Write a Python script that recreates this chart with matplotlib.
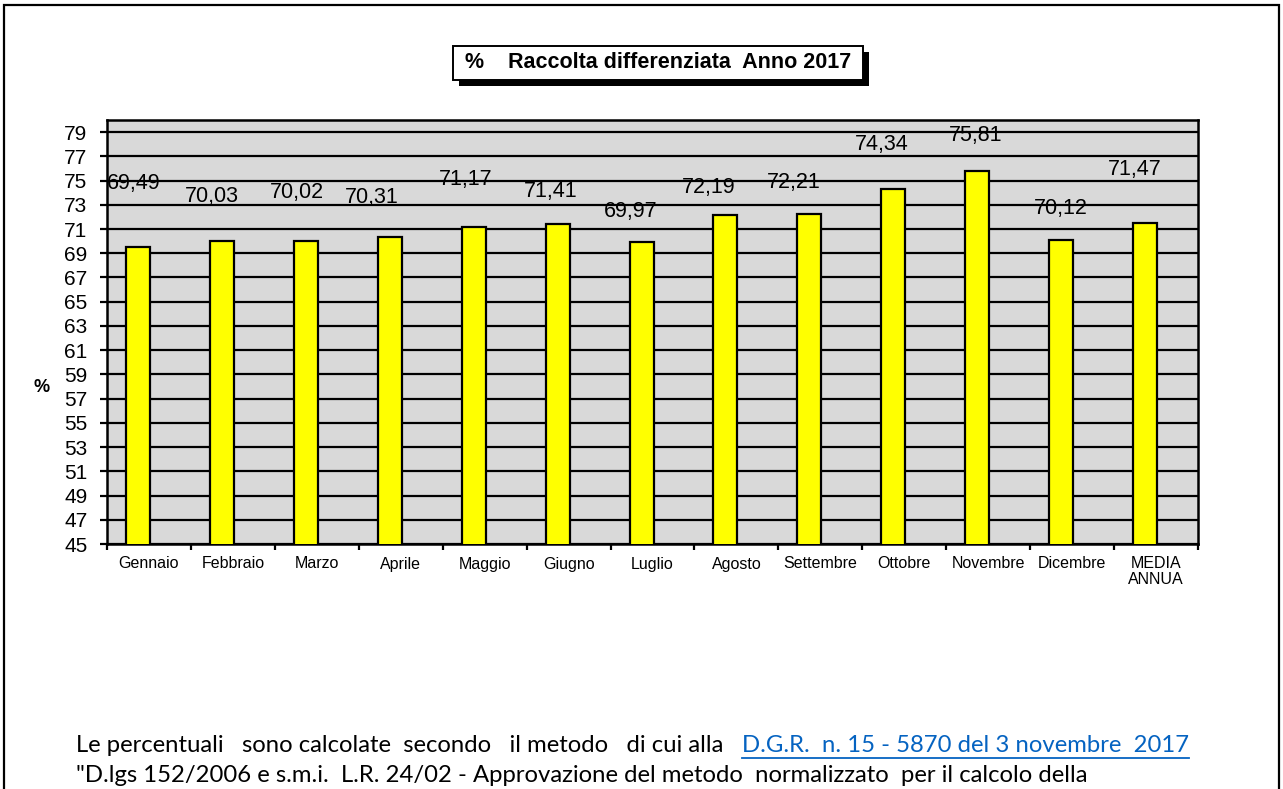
import matplotlib
matplotlib.use("Agg")
import matplotlib.pyplot as plt
from matplotlib.patches import Rectangle
from matplotlib.lines import Line2D

# ---- data ----
months = ["Gennaio", "Febbraio", "Marzo", "Aprile", "Maggio", "Giugno", "Luglio",
          "Agosto", "Settembre", "Ottobre", "Novembre", "Dicembre", "MEDIA\nANNUA"]
values = [69.49, 70.03, 70.02, 70.31, 71.17, 71.41, 69.97,
          72.19, 72.21, 74.34, 75.81, 70.12, 71.47]
yticks = list(range(45, 80, 2))
title = "%    Raccolta differenziata  Anno 2017"
footer1 = "Le percentuali   sono calcolate  secondo   il metodo   di cui alla"
footer_link = "D.G.R.  n. 15 - 5870 del 3 novembre  2017"
footer2 = "\"D.lgs 152/2006 e s.m.i.  L.R. 24/02 - Approvazione del metodo  normalizzato  per il calcolo della"

# label placement (layout only): horizontal shift in px, vertical shift above bar top in data units
label_dx_px = [-4, -10.5, -8.5, -17.5, -8, -7, -11, -16.5, -16, -12, -1.5, 0, -10]
label_dy = [5.27, 3.65, 3.96, 3.26, 3.88, 2.69, 2.48, 2.24, 2.63, 3.60, 2.91, 2.59, 4.44]

W, H = 1283, 789
fig = plt.figure(figsize=(W / 100, H / 100), dpi=100)
fig.patch.set_facecolor("white")

def fx(px):
    return px / W

def fy(py):
    return 1 - py / H

# outer frame
fig.patches.append(Rectangle((fx(4), fy(800)), fx(1279) - fx(4), fy(5) - fy(800),
                             transform=fig.transFigure, fill=False, edgecolor="black",
                             linewidth=1.6, zorder=0))

L, R, T, B = 107, 1198, 120, 544
ax = fig.add_axes([fx(L), fy(B), fx(R) - fx(L), fy(T) - fy(B)])
ax.set_facecolor("#D9D9D9")

n = len(months)
cat_px = (R - L) / n
xs = list(range(n))
bar_off = -11 / cat_px
bar_w = 24 / cat_px

ax.bar([x + bar_off for x in xs], values, width=bar_w, color="#FFFF00",
       edgecolor="black", linewidth=1.6, zorder=3)

for i, v in enumerate(values):
    ax.text(xs[i] + bar_off + label_dx_px[i] / cat_px, v + label_dy[i],
            f"{v:.2f}".replace(".", ","), ha="center", va="center",
            fontsize=15.5, family="Liberation Sans", color="black", zorder=5)

ax.set_xlim(-0.5, n - 0.5)
ax.set_ylim(45, 80)
ax.set_yticks(yticks)
ax.set_yticklabels([str(t) for t in yticks], fontsize=15, family="Liberation Sans")
ax.yaxis.grid(True, color="black", linewidth=1.6, zorder=1)
ax.set_axisbelow(True)
ax.tick_params(axis="y", length=5, width=1.6, pad=9, direction="out")

# x: ticks at category boundaries, labels at centers
ax.set_xticks([x + 0.5 for x in xs[:-1]] + [-0.5, n - 0.5])
ax.set_xticklabels([])
ax.tick_params(axis="x", which="major", length=4, width=1.6, direction="out")
ax.set_xticks(xs, minor=True)
ax.set_xticklabels(months, minor=True, fontsize=11.5, family="Liberation Sans",
                   linespacing=1.05)
ax.tick_params(axis="x", which="minor", length=0, pad=9)

for s in ax.spines.values():
    s.set_linewidth(1.8)
    s.set_color("black")

# y label
fig.text(fx(42), fy(388), "%", ha="center", va="center", fontsize=13,
         fontweight="bold", family="Liberation Sans")

# title box with shadow
bx0, by0, bx1, by1 = 453, 46, 863, 80
fig.patches.append(Rectangle((fx(bx0 + 6), fy(by1 + 6)), fx(bx1) - fx(bx0), fy(by0) - fy(by1),
                             transform=fig.transFigure, facecolor="black", edgecolor="black",
                             linewidth=0, zorder=1))
fig.patches.append(Rectangle((fx(bx0), fy(by1)), fx(bx1) - fx(bx0), fy(by0) - fy(by1),
                             transform=fig.transFigure, facecolor="white", edgecolor="black",
                             linewidth=1.4, zorder=2))
fig.text(fx(465), fy((by0 + by1) / 2), title, ha="left", va="center",
         fontsize=15.5, fontweight="bold", family="Liberation Sans", zorder=3)

# footer
ffam = ["Lato", "DejaVu Sans"]
fs = 17.2
fig.text(fx(76), fy(746), footer1, ha="left", va="center", fontsize=fs, family=ffam)
link = fig.text(fx(742), fy(746), footer_link, ha="left", va="center", fontsize=fs,
                family=ffam, color="#0563C1")
fig.text(fx(76), fy(776), footer2, ha="left", va="center", fontsize=fs, family=ffam)

fig.canvas.draw()
bb = link.get_window_extent()
fig.lines.append(Line2D([bb.x0 / W, bb.x1 / W], [fy(758), fy(758)],
                        transform=fig.transFigure, color="#0563C1", linewidth=1.3))

fig.savefig("out.png", dpi=100)
